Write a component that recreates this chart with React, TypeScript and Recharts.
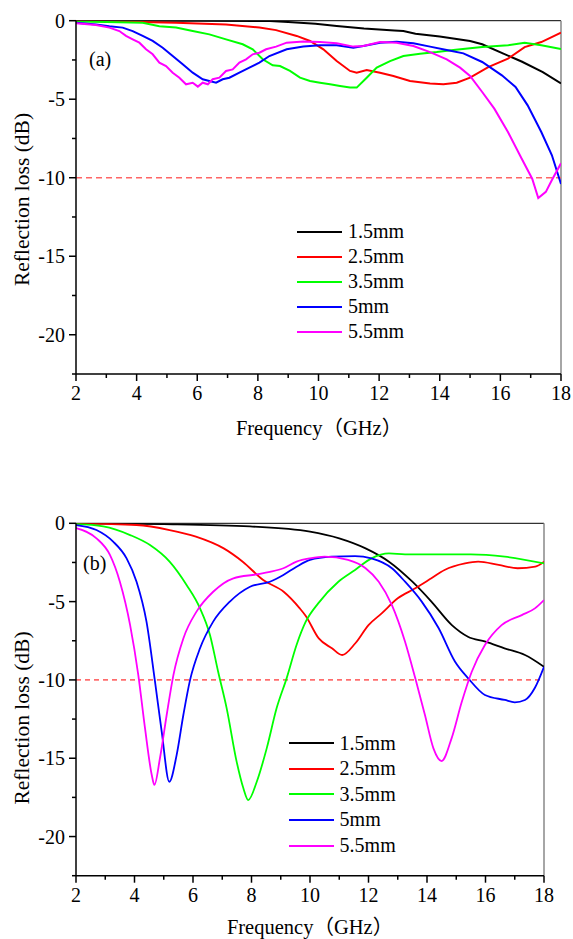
import React from 'react';
import { LineChart, Line, XAxis, YAxis, ReferenceLine, Legend } from 'recharts';

const FONT = "'Liberation Serif', serif";
const CJK = "'Noto Sans CJK SC', sans-serif";

const seriesNames = ['1.5mm', '2.5mm', '3.5mm', '5mm', '5.5mm'];
const seriesColors = ['#000000', '#ff0000', '#00ff00', '#0000ff', '#ff00ff'];

const xTicks = [2, 3, 4, 5, 6, 7, 8, 9, 10, 11, 12, 13, 14, 15, 16, 17, 18];
const yTicks = [0, -2.5, -5, -7.5, -10, -12.5, -15, -17.5, -20, -22.5];

// Panel (a)
const a15Freq = [2, 4, 6, 8, 8.4, 9, 9.9, 10.6, 11.5, 12.5, 12.8, 13.2, 14, 14.5, 15, 15.4, 16.1, 16.7, 17.4, 18];
const a15Loss = [0, 0, -0.01, -0.02, -0.02, -0.08, -0.19, -0.34, -0.5, -0.62, -0.66, -0.83, -1.0, -1.15, -1.29, -1.5, -2.1, -2.6, -3.27, -4.0];
const a25Freq = [2, 5.3, 6.95, 8.05, 8.6, 9.28, 9.72, 10.16, 10.6, 11.04, 11.26, 11.59, 12.03, 12.47, 13.02, 13.68, 14.12, 14.56, 15.0, 15.6, 16.25, 16.8, 17.35, 18];
const a25Loss = [0, -0.13, -0.24, -0.44, -0.6, -0.97, -1.29, -1.82, -2.57, -3.2, -3.31, -3.14, -3.31, -3.52, -3.84, -4.0, -4.05, -3.95, -3.63, -2.95, -2.42, -1.68, -1.36, -0.76];
const a35Freq = [2, 3, 4.2, 4.75, 5.3, 5.85, 6.4, 6.95, 7.5, 7.83, 8.16, 8.49, 8.73, 9.06, 9.39, 9.72, 10.05, 10.38, 10.71, 11.04, 11.26, 11.59, 11.92, 12.36, 12.8, 13.35, 13.9, 14.45, 15.0, 15.4, 16.25, 16.8, 17.35, 18];
const a35Loss = [-0.05, -0.08, -0.13, -0.35, -0.44, -0.66, -0.87, -1.19, -1.5, -1.82, -2.46, -2.84, -2.89, -3.2, -3.63, -3.84, -3.95, -4.05, -4.16, -4.26, -4.26, -3.63, -2.99, -2.57, -2.25, -2.1, -2.0, -1.87, -1.76, -1.68, -1.57, -1.4, -1.57, -1.8];
const a5Freq = [2, 2.66, 3.1, 3.54, 3.87, 4.2, 4.53, 4.86, 5.19, 5.52, 5.85, 6.18, 6.4, 6.62, 6.84, 7.06, 7.39, 7.72, 8.05, 8.38, 8.95, 9.5, 10.05, 10.6, 11.15, 11.48, 12.03, 12.58, 13.13, 13.68, 14.23, 14.78, 15.4, 16.05, 16.5, 16.9, 17.35, 17.7, 18];
const a5Loss = [-0.13, -0.24, -0.35, -0.44, -0.66, -0.97, -1.29, -1.72, -2.25, -2.78, -3.31, -3.73, -3.84, -3.95, -3.73, -3.63, -3.31, -2.99, -2.67, -2.25, -1.82, -1.65, -1.57, -1.57, -1.72, -1.61, -1.4, -1.34, -1.44, -1.65, -1.87, -2.08, -2.63, -3.48, -4.22, -5.39, -7.09, -8.57, -10.4];
const a55Freq = [2, 2.66, 3.1, 3.43, 3.65, 3.87, 4.09, 4.31, 4.53, 4.75, 4.97, 5.19, 5.41, 5.63, 5.85, 6.02, 6.18, 6.35, 6.51, 6.73, 6.95, 7.17, 7.39, 7.61, 7.83, 8.05, 8.27, 8.6, 8.95, 9.5, 10.05, 10.6, 11.15, 11.48, 12.03, 12.58, 13.13, 13.68, 14.23, 14.67, 15.0, 15.4, 15.8, 16.25, 16.7, 17.05, 17.25, 17.5, 17.7, 18];
const a55Loss = [-0.17, -0.27, -0.44, -0.66, -0.97, -1.19, -1.4, -1.82, -2.14, -2.67, -2.89, -3.31, -3.63, -4.05, -3.95, -4.2, -3.95, -4.05, -3.73, -3.63, -3.2, -3.1, -2.67, -2.46, -2.14, -2.04, -1.82, -1.65, -1.4, -1.32, -1.36, -1.44, -1.65, -1.61, -1.36, -1.4, -1.61, -2.0, -2.46, -2.99, -3.52, -4.54, -5.6, -7.09, -8.78, -10.06, -11.3, -10.9, -10.15, -9.08];

// Panel (b)
const b15Freq = [2, 5, 7.95, 10.0, 11.0, 11.9, 12.7, 13.5, 14.15, 14.85, 15.4, 16.0, 16.65, 17.35, 18];
const b15Loss = [0, -0.05, -0.2, -0.53, -0.96, -1.6, -2.45, -3.73, -5.0, -6.5, -7.24, -7.56, -7.98, -8.41, -9.16];
const b25Freq = [2, 4.07, 5.2, 6.1, 7.05, 7.7, 8.4, 9.1, 9.65, 9.85, 10.3, 10.75, 11.1, 11.55, 12.0, 12.45, 13.0, 13.6, 14.15, 14.6, 15.3, 15.75, 16.45, 17.1, 17.7, 18];
const b25Loss = [0, -0.11, -0.43, -0.85, -1.6, -2.45, -3.62, -4.37, -5.43, -5.9, -7.35, -7.98, -8.41, -7.66, -6.5, -5.75, -4.79, -4.15, -3.51, -2.98, -2.56, -2.45, -2.66, -2.87, -2.77, -2.45];
const b35Freq = [2, 2.93, 3.85, 4.53, 5.2, 5.78, 6.24, 6.58, 6.86, 7.15, 7.49, 7.72, 7.89, 8.18, 8.52, 8.86, 9.2, 9.54, 9.85, 10.28, 10.97, 11.54, 12.1, 12.7, 13.25, 14.4, 15.5, 16.66, 18];
const b35Loss = [-0.04, -0.2, -0.75, -1.39, -2.45, -3.94, -5.43, -7.13, -9.48, -11.8, -15.2, -16.9, -17.67, -16.5, -14.37, -11.8, -9.9, -7.77, -6.3, -5.11, -3.73, -2.98, -2.24, -1.92, -1.98, -1.98, -1.98, -2.13, -2.56];
const b5Freq = [2, 2.7, 3.27, 3.73, 4.07, 4.41, 4.7, 4.93, 5.19, 5.44, 5.67, 5.9, 6.24, 6.69, 7.26, 7.95, 8.63, 9.09, 9.54, 10.0, 10.74, 11.54, 12.1, 12.8, 13.25, 13.82, 14.4, 14.96, 15.41, 15.98, 16.66, 17.0, 17.35, 17.69, 18];
const b5Loss = [-0.11, -0.43, -1.17, -2.24, -3.73, -6.28, -10.1, -13.3, -16.5, -14.8, -12.24, -10.0, -7.98, -6.28, -5.0, -4.05, -3.73, -3.3, -2.77, -2.34, -2.13, -2.09, -2.24, -2.87, -3.73, -5.0, -6.7, -8.84, -9.9, -10.96, -11.28, -11.43, -11.28, -10.5, -9.16];
const b55Freq = [2, 2.7, 3.16, 3.5, 3.85, 4.13, 4.36, 4.59, 4.68, 4.87, 5.1, 5.33, 5.67, 6.12, 6.69, 7.38, 8.18, 8.63, 9.09, 9.54, 10.0, 10.5, 11.3, 11.9, 12.35, 12.8, 13.25, 13.6, 13.93, 14.22, 14.5, 14.84, 15.19, 15.53, 15.98, 16.55, 17.24, 17.69, 18];
const b55Loss = [-0.3, -0.96, -2.02, -3.73, -6.5, -9.69, -13.1, -16.07, -16.7, -15.0, -12.24, -9.69, -7.35, -5.64, -4.37, -3.51, -3.26, -3.1, -2.87, -2.45, -2.24, -2.13, -2.34, -2.87, -3.73, -5.22, -7.56, -9.9, -12.24, -14.37, -15.18, -13.73, -11.4, -9.48, -7.77, -6.5, -5.86, -5.43, -4.9];

const zip = (f: number[], v: number[]) => f.map((x, i) => ({ f: x, v: v[i] }));

const panelA = [zip(a15Freq, a15Loss), zip(a25Freq, a25Loss), zip(a35Freq, a35Loss), zip(a5Freq, a5Loss), zip(a55Freq, a55Loss)];
const panelB = [zip(b15Freq, b15Loss), zip(b25Freq, b25Loss), zip(b35Freq, b35Loss), zip(b5Freq, b5Loss), zip(b55Freq, b55Loss)];

const TICK = 7;
const MINOR = 4;
const MARGIN = 5;
const TICK_FONT = 20;

function XTick(props: any) {
  const { x, y, payload } = props;
  const v = payload.value;
  const major = v % 2 === 0;
  const axisY = y - TICK - MARGIN;
  return (
    <g>
      <line x1={x} x2={x} y1={axisY} y2={axisY + (major ? TICK : MINOR)} stroke="#000" strokeWidth={1.5} />
      {major && (
        <text x={x} y={axisY + 26} textAnchor="middle" fontSize={TICK_FONT} fontFamily={FONT} fill="#000">
          {v}
        </text>
      )}
    </g>
  );
}

function YTick(props: any) {
  const { x, y, payload } = props;
  const v = payload.value;
  const major = v % 5 === 0;
  const axisX = x + TICK + MARGIN;
  return (
    <g>
      <line x1={axisX - (major ? TICK : MINOR)} x2={axisX} y1={y} y2={y} stroke="#000" strokeWidth={1.5} />
      {major && (
        <text x={axisX - 11} y={y + 7} textAnchor="end" fontSize={TICK_FONT} fontFamily={FONT} fill="#000">
          {v}
        </text>
      )}
    </g>
  );
}

function makeLegend(rowH: number) {
  return () => (
    <div style={{ fontFamily: FONT, fontSize: 20, color: '#000' }}>
      {seriesNames.map((n, i) => (
        <div key={n} style={{ height: rowH, display: 'flex', alignItems: 'center' }}>
          <span style={{ display: 'inline-block', width: 45, height: 2, background: seriesColors[i] }} />
          <span style={{ marginLeft: 6, lineHeight: rowH + 'px', fontFamily: FONT }}>{n}</span>
        </div>
      ))}
    </div>
  );
}

type PanelProps = {
  data: { f: number; v: number }[][];
  margin: { top: number; right: number; left: number; bottom: number };
  height: number;
  curve: 'linear' | 'monotone';
  lw: number;
  dashColor: string;
  dashArray: string;
  dashWidth: number;
  legendLeft: number;
  legendTop: number;
  rowH: number;
};

function Panel(p: PanelProps) {
  return (
    <LineChart width={573} height={p.height} margin={p.margin} style={{ fontFamily: FONT }}>
      <XAxis
        type="number"
        dataKey="f"
        domain={[2, 18]}
        ticks={xTicks}
        interval={0}
        tickSize={TICK}
        tickMargin={MARGIN}
        tickLine={false}
        tick={<XTick />}
        axisLine={{ stroke: '#000', strokeWidth: 1.5 }}
        height={30}
        allowDataOverflow
      />
      <YAxis
        type="number"
        dataKey="v"
        domain={[-22.5, 0]}
        ticks={yTicks}
        interval={0}
        tickSize={TICK}
        tickMargin={MARGIN}
        tickLine={false}
        tick={<YTick />}
        axisLine={{ stroke: '#000', strokeWidth: 1.5 }}
        width={60}
        allowDataOverflow
      />
      <ReferenceLine y={0} stroke="#000" strokeWidth={1} />
      <ReferenceLine x={18} stroke="#888" strokeWidth={1.5} />
      <ReferenceLine y={-10} stroke={p.dashColor} strokeDasharray={p.dashArray} strokeWidth={p.dashWidth} />
      {p.data.map((d, i) => (
        <Line
          key={seriesNames[i]}
          data={d}
          dataKey="v"
          name={seriesNames[i]}
          type={p.curve}
          stroke={seriesColors[i]}
          strokeWidth={p.lw}
          dot={false}
          activeDot={false}
          isAnimationActive={false}
        />
      ))}
      <Legend
        layout="vertical"
        align="center"
        verticalAlign="middle"
        width={140}
        content={makeLegend(p.rowH)}
        wrapperStyle={{ position: 'absolute', left: p.legendLeft, top: p.legendTop, width: 140 }}
      />
    </LineChart>
  );
}

function XTitle({ x, y }: { x: number; y: number }) {
  return (
    <text x={x} y={y} fontSize={20.5} textAnchor="middle" fontFamily={FONT}>
      Frequency<tspan fontFamily={CJK}>（</tspan>GHz<tspan fontFamily={CJK}>）</tspan>
    </text>
  );
}

export default function App() {
  return (
    <div style={{ position: 'absolute', left: 0, top: 0, width: 573, height: 939, background: '#fff', overflow: 'hidden', fontFamily: FONT }}>
      <div style={{ position: 'absolute', left: 0, top: 0 }}>
        <Panel
          data={panelA}
          margin={{ top: 20.7, right: 12, left: 16, bottom: 6 }}
          height={410}
          curve="linear"
          lw={2}
          dashColor="#ff6666"
          dashArray="6 4"
          dashWidth={1.5}
          legendLeft={297}
          legendTop={219.2}
          rowH={25}
        />
      </div>
      <div style={{ position: 'absolute', left: 0, top: 500 }}>
        <Panel
          data={panelB}
          margin={{ top: 23.3, right: 29, left: 16, bottom: 14.3 }}
          height={420}
          curve="monotone"
          lw={1.8}
          dashColor="#ff0000"
          dashArray="5 4"
          dashWidth={1}
          legendLeft={288.6}
          legendTop={230.5}
          rowH={25.6}
        />
      </div>
      <svg width={573} height={939} style={{ position: 'absolute', left: 0, top: 0, pointerEvents: 'none' }}>
        <g fill="#000">
          <text x={29} y={199.5} fontSize={21.5} textAnchor="middle" fontFamily={FONT} transform="rotate(-90 29 199.5)">
            Reflection loss (dB)
          </text>
          <XTitle x={319} y={435} />
          <text x={89} y={66} fontSize={20} fontFamily={FONT}>(a)</text>
          <text x={29} y={718} fontSize={21.5} textAnchor="middle" fontFamily={FONT} transform="rotate(-90 29 718)">
            Reflection loss (dB)
          </text>
          <XTitle x={310} y={934} />
          <text x={83} y={570} fontSize={20} fontFamily={FONT}>(b)</text>
        </g>
      </svg>
    </div>
  );
}
